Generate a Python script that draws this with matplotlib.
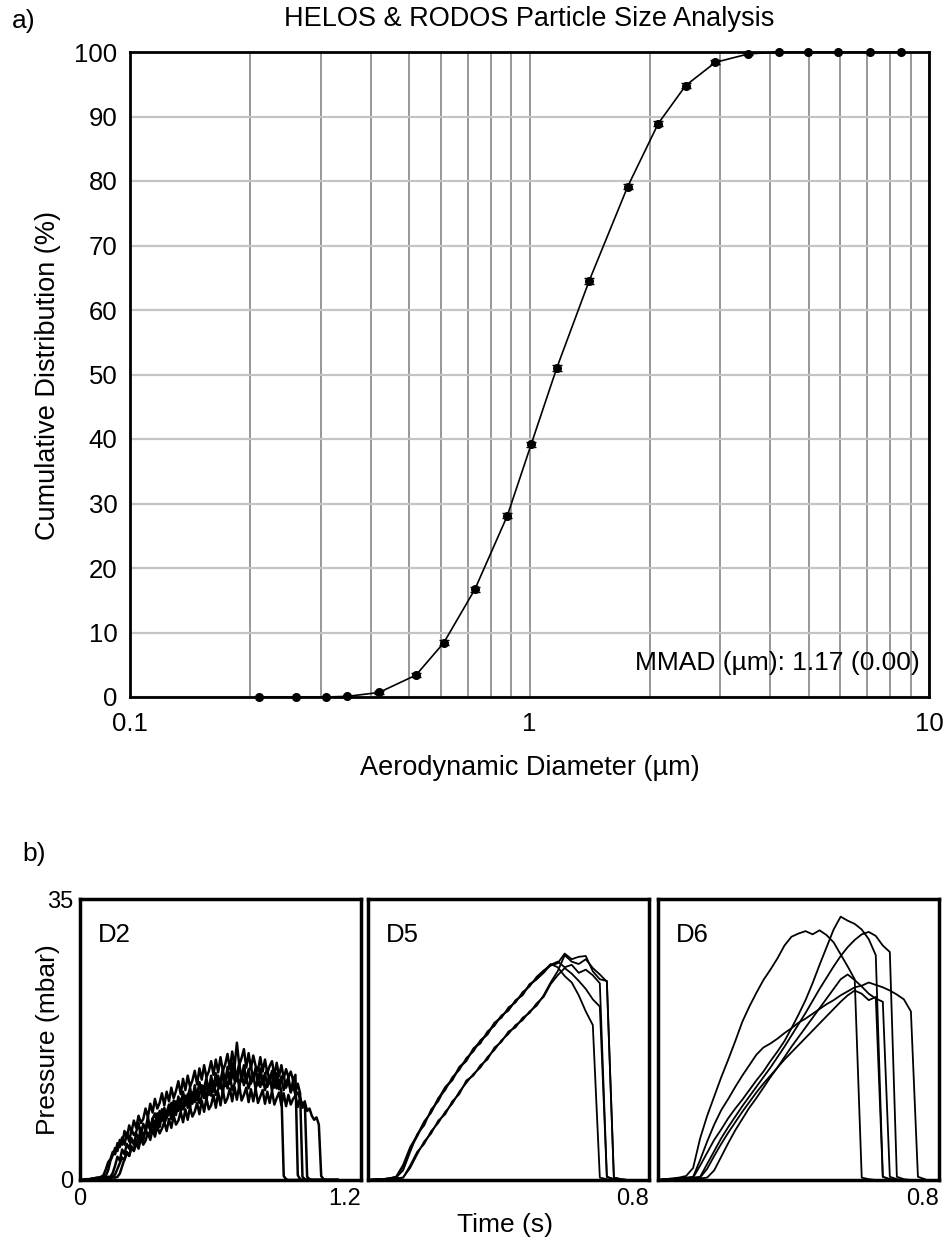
import matplotlib.pyplot as plt
from matplotlib.ticker import NullFormatter

plt.rcParams['font.family'] = ['Liberation Sans', 'DejaVu Sans']

# ---- a) HELOS & RODOS cumulative distribution ----
diameter = [0.21, 0.26, 0.31, 0.35, 0.42, 0.52, 0.61, 0.73, 0.88, 1.01, 1.17,
            1.41, 1.76, 2.10, 2.46, 2.92, 3.53, 4.22, 4.99, 5.93, 7.10, 8.49]
cumulative = [0.0, 0.0, 0.0, 0.1, 0.7, 3.4, 8.4, 16.7, 28.1, 39.2, 51.0,
              64.5, 79.1, 88.9, 94.8, 98.4, 99.7, 100.0, 100.0, 100.0, 100.0, 100.0]
cumulative_err = [0.0, 0.0, 0.0, 0.1, 0.2, 0.3, 0.4, 0.4, 0.4, 0.4, 0.4,
                  0.4, 0.4, 0.4, 0.4, 0.3, 0.2, 0.0, 0.0, 0.0, 0.0, 0.0]
mmad_text = "MMAD (\u00b5m): 1.17 (0.00)"

# ---- b) pressure traces ----
# D2: sampled every 10 ms, one row per 0.1 s
t_d2 = [0.00, 0.01, 0.02, 0.03, 0.04, 0.05, 0.06, 0.07, 0.08, 0.09,
        0.10, 0.11, 0.12, 0.13, 0.14, 0.15, 0.16, 0.17, 0.18, 0.19,
        0.20, 0.21, 0.22, 0.23, 0.24, 0.25, 0.26, 0.27, 0.28, 0.29,
        0.30, 0.31, 0.32, 0.33, 0.34, 0.35, 0.36, 0.37, 0.38, 0.39,
        0.40, 0.41, 0.42, 0.43, 0.44, 0.45, 0.46, 0.47, 0.48, 0.49,
        0.50, 0.51, 0.52, 0.53, 0.54, 0.55, 0.56, 0.57, 0.58, 0.59,
        0.60, 0.61, 0.62, 0.63, 0.64, 0.65, 0.66, 0.67, 0.68, 0.69,
        0.70, 0.71, 0.72, 0.73, 0.74, 0.75, 0.76, 0.77, 0.78, 0.79,
        0.80, 0.81, 0.82, 0.83, 0.84, 0.85, 0.86, 0.87, 0.88, 0.89,
        0.90, 0.91, 0.92, 0.93, 0.94, 0.95, 0.96, 0.97, 0.98, 0.99,
        1.00, 1.01, 1.02, 1.03, 1.04, 1.05, 1.06, 1.07, 1.08, 1.09, 1.10]
d2_a = [0.0, 0.0, 0.1, 0.1, 0.1, 0.2, 0.2, 0.3, 0.3, 0.4,
        0.6, 1.3, 2.2, 2.6, 3.5, 3.2, 4.6, 4.1, 5.3, 4.4,
        5.9, 4.8, 6.3, 5.6, 6.0, 7.1, 5.4, 7.0, 6.3, 7.9,
        6.2, 7.6, 8.3, 6.9, 8.6, 7.4, 9.0, 7.8, 8.4, 9.6,
        7.9, 9.8, 8.6, 10.1, 8.8, 9.4, 10.7, 9.0, 10.9, 9.7,
        11.2, 9.6, 10.4, 11.7, 9.9, 11.9, 10.5, 12.2, 10.6, 11.3,
        12.6, 10.8, 12.9, 11.4, 13.1, 11.2, 12.0, 13.4, 11.5, 13.2,
        11.8, 12.9, 11.4, 12.5, 13.1, 11.3, 12.8, 11.6, 12.9, 11.2,
        12.2, 13.0, 11.1, 12.7, 11.4, 12.5, 11.0, 0.5, 0.1, 0.0,
        0.0, 0.0, 0.0, 0.0, 0.0, 0.0, 0.0, 0.0, 0.0, 0.0,
        0.0, 0.0, 0.0, 0.0, 0.0, 0.0, 0.0, 0.0, 0.0, 0.0, 0.0]
d2_b = [0.0, 0.0, 0.0, 0.1, 0.1, 0.1, 0.2, 0.2, 0.3, 0.3,
        0.4, 0.5, 1.2, 2.4, 3.1, 4.0, 3.6, 5.0, 4.4, 6.1,
        5.2, 6.8, 6.0, 7.4, 6.5, 8.0, 7.1, 7.6, 8.9, 7.8,
        9.5, 8.4, 10.1, 8.9, 9.6, 10.8, 9.3, 11.0, 9.8, 11.5,
        10.2, 11.1, 12.3, 10.7, 12.6, 11.2, 13.0, 11.6, 12.4, 13.6,
        11.9, 13.9, 12.5, 14.3, 12.8, 13.5, 14.8, 13.1, 15.0, 13.4,
        15.3, 13.6, 14.4, 15.7, 13.8, 16.0, 14.1, 17.1, 14.3, 15.2,
        16.3, 14.0, 15.8, 13.9, 15.5, 14.2, 13.6, 15.3, 13.5, 15.0,
        13.3, 14.2, 14.8, 13.0, 14.6, 12.9, 14.3, 12.7, 13.8, 12.8,
        13.5, 12.4, 13.1, 0.6, 0.1, 0.0, 0.0, 0.0, 0.0, 0.0,
        0.0, 0.0, 0.0, 0.0, 0.0, 0.0, 0.0, 0.0, 0.0, 0.0, 0.0]
d2_c = [0.0, 0.0, 0.0, 0.0, 0.1, 0.1, 0.1, 0.2, 0.2, 0.2,
        0.3, 0.3, 0.4, 0.4, 0.9, 1.8, 2.9, 2.4, 3.8, 3.2,
        4.5, 3.9, 5.2, 4.4, 5.8, 5.0, 6.5, 5.6, 6.0, 7.2,
        6.2, 7.7, 6.8, 8.3, 7.3, 8.8, 7.6, 8.4, 9.4, 8.1,
        9.9, 8.6, 10.4, 9.2, 11.0, 9.5, 10.3, 11.5, 9.9, 11.8,
        10.4, 12.2, 10.8, 11.5, 12.7, 11.0, 13.0, 11.4, 13.3, 11.7,
        12.4, 13.8, 11.9, 14.1, 12.2, 14.6, 12.4, 13.2, 14.4, 12.3,
        14.0, 12.1, 13.8, 12.0, 12.9, 13.7, 11.8, 13.5, 11.9, 13.3,
        11.6, 12.6, 13.4, 11.5, 13.1, 11.3, 12.9, 11.2, 12.1, 12.8,
        11.0, 12.4, 10.9, 12.0, 10.8, 0.4, 0.1, 0.0, 0.0, 0.0,
        0.0, 0.0, 0.0, 0.0, 0.0, 0.0, 0.0, 0.0, 0.0, 0.0, 0.0]
d2_d = [0.0, 0.0, 0.0, 0.0, 0.0, 0.1, 0.1, 0.1, 0.1, 0.2,
        0.2, 0.2, 0.3, 0.3, 0.4, 0.7, 1.4, 2.1, 2.8, 2.5,
        3.5, 3.0, 4.1, 3.6, 4.6, 3.9, 5.2, 4.4, 4.9, 5.9,
        5.0, 6.3, 5.4, 6.7, 5.8, 6.4, 7.2, 6.1, 7.6, 6.5,
        8.0, 6.9, 7.4, 8.5, 7.2, 8.8, 7.5, 9.1, 7.9, 8.5,
        9.6, 8.2, 9.9, 8.5, 10.2, 8.8, 9.3, 10.6, 9.0, 10.9,
        9.3, 11.2, 9.6, 10.2, 11.4, 9.8, 11.6, 10.0, 11.8, 9.9,
        10.6, 11.5, 9.7, 11.3, 9.8, 11.4, 9.6, 10.4, 11.2, 9.5,
        11.0, 9.6, 11.1, 9.4, 10.2, 10.9, 9.3, 10.8, 9.2, 10.6,
        9.4, 10.1, 10.5, 9.1, 10.3, 9.0, 9.8, 0.4, 0.1, 0.0,
        0.0, 0.0, 0.0, 0.0, 0.0, 0.0, 0.0, 0.0, 0.0, 0.0, 0.0]
d2_e = [0.0, 0.0, 0.0, 0.0, 0.0, 0.0, 0.1, 0.1, 0.1, 0.1,
        0.2, 0.2, 0.2, 0.3, 0.3, 0.3, 0.4, 0.8, 1.7, 2.6,
        3.4, 3.0, 4.2, 3.7, 5.0, 4.3, 5.6, 4.9, 6.3, 5.5,
        6.0, 7.0, 6.1, 7.6, 6.6, 8.1, 7.1, 7.7, 8.8, 7.6,
        9.3, 8.1, 9.8, 8.6, 9.2, 10.5, 9.0, 11.0, 9.5, 11.3,
        9.9, 10.6, 11.8, 10.2, 12.2, 10.6, 12.5, 11.0, 11.8, 13.0,
        11.4, 13.4, 11.7, 13.8, 12.0, 12.9, 14.2, 12.3, 14.5, 12.6,
        14.3, 12.5, 13.6, 14.2, 12.4, 14.0, 12.3, 13.9, 12.2, 13.1,
        13.8, 12.0, 13.6, 11.9, 13.3, 11.8, 12.6, 13.0, 11.5, 12.4,
        10.9, 11.8, 10.6, 10.9, 10.1, 9.4, 9.7, 8.6, 8.9, 8.0,
        7.5, 7.8, 6.9, 0.5, 0.1, 0.0, 0.0, 0.0, 0.0, 0.0, 0.0]
d2_traces = [d2_a, d2_b, d2_c, d2_d, d2_e]

t_d5 = [0.00, 0.02, 0.04, 0.06, 0.08, 0.10, 0.12, 0.14, 0.16, 0.18,
        0.20, 0.22, 0.24, 0.26, 0.28, 0.30, 0.32, 0.34, 0.36, 0.38,
        0.40, 0.42, 0.44, 0.46, 0.48, 0.50, 0.52, 0.54, 0.56, 0.58,
        0.60, 0.62, 0.64, 0.66, 0.68, 0.70, 0.72, 0.74]
d5_traces = [
    [0.0, 0.1, 0.1, 0.2, 0.4, 1.6, 3.9, 5.4, 7.2, 8.5, 10.2, 11.2, 12.8, 13.7, 15.2,
     16.0, 17.4, 18.2, 19.6, 20.2, 21.5, 22.1, 23.4, 24.1, 25.3, 26.1, 26.7, 27.0,
     28.2, 27.5, 27.8, 27.9, 26.0, 25.0, 24.8, 0.3, 0.1, 0.0],
    [0.0, 0.1, 0.1, 0.2, 0.3, 1.2, 3.5, 5.7, 6.8, 8.8, 9.8, 11.5, 12.4, 14.0, 14.8,
     16.4, 17.0, 18.5, 19.2, 20.5, 21.1, 22.4, 23.0, 24.4, 25.0, 25.8, 26.8, 27.2,
     26.5, 26.8, 25.8, 26.2, 25.5, 24.5, 0.4, 0.1, 0.0, 0.0],
    [0.0, 0.1, 0.1, 0.2, 0.4, 1.9, 4.1, 5.6, 7.3, 8.4, 10.1, 11.6, 12.5, 14.1, 14.9,
     16.3, 17.3, 18.1, 19.5, 20.4, 21.2, 22.3, 23.1, 24.3, 25.0, 26.0, 26.9, 26.5,
     25.4, 24.6, 23.0, 21.0, 19.3, 0.3, 0.1, 0.0, 0.0, 0.0],
    [0.0, 0.0, 0.1, 0.1, 0.2, 0.3, 1.8, 3.5, 4.5, 6.1, 7.1, 8.5, 9.5, 11.0, 12.1,
     13.2, 14.0, 15.3, 16.2, 17.4, 18.2, 19.3, 19.9, 21.0, 21.7, 23.0, 24.6, 26.0,
     28.0, 27.2, 26.9, 27.5, 26.4, 25.6, 24.7, 0.3, 0.1, 0.0],
    [0.0, 0.0, 0.1, 0.1, 0.2, 0.3, 1.5, 3.2, 4.8, 5.8, 7.4, 8.2, 9.8, 10.7, 12.4,
     13.0, 14.3, 15.0, 16.5, 17.2, 18.5, 19.0, 20.2, 20.8, 22.0, 22.8, 24.4, 25.5,
     26.4, 25.7, 24.8, 23.8, 22.5, 21.6, 0.4, 0.1, 0.0, 0.0],
]

t_d6 = [0.00, 0.02, 0.04, 0.06, 0.08, 0.10, 0.12, 0.14, 0.16, 0.18,
        0.20, 0.22, 0.24, 0.26, 0.28, 0.30, 0.32, 0.34, 0.36, 0.38,
        0.40, 0.42, 0.44, 0.46, 0.48, 0.50, 0.52, 0.54, 0.56, 0.58,
        0.60, 0.62, 0.64, 0.66, 0.68, 0.70, 0.72, 0.74, 0.76]
d6_traces = [
    [0.0, 0.1, 0.2, 0.3, 0.5, 1.5, 5.2, 8.0, 10.4, 12.8, 15.0, 17.3, 19.7, 21.6,
     23.3, 24.9, 26.2, 27.6, 29.2, 30.3, 30.7, 31.0, 30.6, 31.1, 30.5, 29.6, 28.1,
     26.6, 25.0, 0.3, 0.1, 0.0, 0.0, 0.0, 0.0, 0.0, 0.0, 0.0, 0.0],
    [0.0, 0.1, 0.1, 0.2, 0.3, 0.4, 2.5, 4.8, 6.9, 8.7, 10.1, 11.6, 13.0, 14.3,
     15.6, 16.5, 17.0, 17.6, 18.3, 18.9, 19.6, 20.1, 20.7, 21.3, 21.9, 22.4, 23.0,
     23.5, 24.0, 24.2, 24.6, 24.3, 24.0, 23.6, 23.1, 22.5, 21.0, 0.4, 0.1],
    [0.0, 0.1, 0.1, 0.2, 0.2, 0.3, 1.8, 3.4, 5.0, 6.3, 7.7, 8.9, 10.0, 11.2, 12.4,
     13.5, 14.8, 16.0, 17.3, 18.9, 20.6, 22.4, 24.5, 26.8, 29.0, 31.2, 32.8, 32.3,
     31.9, 31.2, 30.0, 28.0, 0.4, 0.1, 0.0, 0.0, 0.0, 0.0, 0.0],
    [0.0, 0.1, 0.1, 0.2, 0.2, 0.3, 0.4, 2.0, 3.6, 5.2, 6.6, 7.9, 9.2, 10.4, 11.6,
     12.8, 14.0, 15.3, 16.6, 18.0, 19.4, 20.8, 22.3, 23.8, 25.2, 26.6, 27.9, 29.0,
     29.9, 30.6, 30.9, 30.4, 29.2, 28.4, 0.4, 0.1, 0.0, 0.0, 0.0],
    [0.0, 0.0, 0.1, 0.1, 0.2, 0.2, 0.2, 0.3, 1.2, 2.9, 4.6, 6.2, 7.6, 9.0, 10.2,
     11.5, 12.8, 14.0, 15.3, 16.6, 17.8, 19.0, 20.2, 21.4, 22.6, 23.8, 25.0, 25.6,
     24.9, 24.1, 23.2, 22.6, 22.2, 0.4, 0.1, 0.0, 0.0, 0.0, 0.0],
    [0.0, 0.0, 0.1, 0.1, 0.2, 0.2, 0.3, 1.4, 3.0, 4.5, 5.9, 7.2, 8.5, 9.7, 10.9,
     12.0, 13.0, 14.0, 15.0, 15.9, 16.8, 17.7, 18.6, 19.5, 20.4, 21.3, 22.2, 23.0,
     23.6, 23.2, 22.4, 22.8, 0.4, 0.1, 0.0, 0.0, 0.0, 0.0, 0.0],
]

W, H = 946, 1243
fig = plt.figure(figsize=(W / 100, H / 100), dpi=100)


def fx(px):
    return px / W


def fy(py):
    return 1 - py / H


# top panel
ax = fig.add_axes([fx(130), fy(697), fx(929) - fx(130), fy(52) - fy(697)])
ax.set_xscale('log')
ax.set_xlim(0.1, 10)
ax.set_ylim(0, 100)
ax.plot(diameter, cumulative, color='black', lw=1.2, zorder=3, clip_on=False)
ax.errorbar(diameter, cumulative, yerr=cumulative_err, fmt='o', color='black',
            ms=5.5, capsize=3.5, elinewidth=1, capthick=1, zorder=4, clip_on=False)
ax.set_xticks([0.1, 1, 10], labels=['0.1', '1', '10'])
minor = [0.2, 0.3, 0.4, 0.5, 0.6, 0.7, 0.8, 0.9, 2, 3, 4, 5, 6, 7, 8, 9]
ax.set_xticks(minor, minor=True)
ax.xaxis.set_minor_formatter(NullFormatter())
ax.set_yticks(range(0, 101, 10))
ax.grid(which='both', axis='x', color='#858585', lw=1.2, zorder=0)
ax.grid(which='major', axis='y', color='#c4c4c4', lw=1.6, zorder=0)
ax.set_axisbelow(True)
ax.tick_params(which='both', length=0, labelsize=18.5)
ax.tick_params(axis='y', pad=9)
ax.tick_params(axis='x', pad=11)
for s in ax.spines.values():
    s.set_linewidth(2)
    s.set_color('black')
ax.text(0.988, 0.052, mmad_text, transform=ax.transAxes, ha='right', va='center',
        fontsize=19)

fig.text(fx(529), fy(19), "HELOS & RODOS Particle Size Analysis", ha='center',
         va='center', fontsize=19.5)
fig.text(fx(12), fy(21), "a)", ha='left', va='center', fontsize=19)
fig.text(fx(530), fy(768), "Aerodynamic Diameter (\u00b5m)", ha='center',
         va='center', fontsize=19.5)
fig.text(fx(48), fy(375), "Cumulative Distribution (%)", ha='center',
         va='center', rotation=90, fontsize=19.5)

# bottom panels
fig.text(fx(22), fy(854), "b)", ha='left', va='center', fontsize=19)
panels = [
    ("D2", 80, 1.2, t_d2, d2_traces, 1.8),
    ("D5", 368, 0.8, t_d5, d5_traces, 1.3),
    ("D6", 658, 0.8, t_d6, d6_traces, 1.3),
]
for i, (name, left, tmax, tt, traces, lw) in enumerate(panels):
    bx = fig.add_axes([fx(left), fy(1180), fx(281), fy(899) - fy(1180)])
    for p in traces:
        bx.plot(tt, p, color='black', lw=lw)
    bx.set_xlim(0, tmax)
    bx.set_ylim(0, 35)
    bx.tick_params(length=0, labelsize=17, pad=6)
    if i == 0:
        bx.set_xticks([0, tmax], labels=['0', '1.2'])
        bx.set_yticks([0, 35], labels=['0', '35'])
        bx.tick_params(axis='y', pad=5)
    else:
        bx.set_xticks([tmax], labels=['0.8'])
        bx.set_yticks([])
    bx.get_xticklabels()[-1].set_horizontalalignment('right')
    for s in bx.spines.values():
        s.set_linewidth(2.5)
        s.set_color('black')
    bx.text(0.062, 0.872, name, transform=bx.transAxes, ha='left', va='center',
            fontsize=18.5)

fig.text(fx(48), fy(1040), "Pressure (mbar)", ha='center', va='center',
         rotation=90, fontsize=19)
fig.text(fx(505), fy(1225), "Time (s)", ha='center', va='center', fontsize=19)

fig.savefig("out.png", dpi=100)
